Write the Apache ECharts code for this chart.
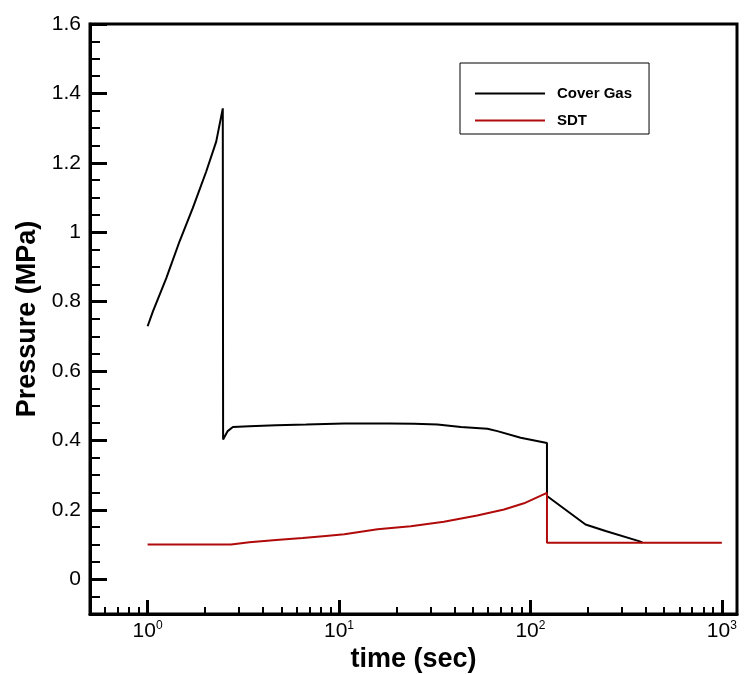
<!DOCTYPE html>
<html>
<head>
<meta charset="utf-8">
<script src="https://cdn.jsdelivr.net/npm/echarts@6/dist/echarts.min.js"></script>
<style>html,body{margin:0;padding:0;background:#fff;}#c{width:750px;height:674px;}</style>
</head>
<body>
<div id="c"></div>
<script>
var coverGasTime = [1, 1.066, 1.252, 1.469, 1.723, 2.024, 2.282, 2.47, 2.48, 2.62, 2.79, 3.4, 4.69, 6.73, 10.65, 18.3, 24.7, 32.7, 43.3, 59.6, 67.2, 88.9, 122, 122, 194, 247, 369, 384];
var coverGasPressure = [0.729, 0.772, 0.868, 0.974, 1.070, 1.175, 1.261, 1.357, 0.403, 0.427, 0.439, 0.441, 0.444, 0.446, 0.449, 0.449, 0.448, 0.446, 0.439, 0.434, 0.427, 0.408, 0.393, 0.240, 0.158, 0.139, 0.110, 0.106];
var sdtTime = [1, 2.73, 3.4, 4.69, 6.45, 8.53, 10.66, 15.9, 23.7, 35.3, 52.7, 72.8, 92.5, 122, 122, 1000];
var sdtPressure = [0.100, 0.100, 0.107, 0.113, 0.119, 0.125, 0.1295, 0.144, 0.153, 0.166, 0.184, 0.201, 0.219, 0.249, 0.105, 0.105];

var xMajorTicks = [1, 10, 100, 1000];
var xMinorTicks = [0.6, 0.7, 0.8, 0.9, 2, 3, 4, 5, 6, 7, 8, 9, 20, 30, 40, 50, 60, 70, 80, 90, 200, 300, 400, 500, 600, 700, 800, 900];
var yMajorTicks = [0, 0.2, 0.4, 0.6, 0.8, 1, 1.2, 1.4, 1.6];
var yMinorTicks = [-0.05, 0.05, 0.1, 0.15, 0.25, 0.3, 0.35, 0.45, 0.5, 0.55, 0.65, 0.7, 0.75, 0.85, 0.9, 0.95, 1.05, 1.1, 1.15, 1.25, 1.3, 1.35, 1.45, 1.5, 1.55];

function zip(a, b) { return a.map(function (v, i) { return [v, b[i]]; }); }

var chart = echarts.init(document.getElementById('c'), null, {renderer: 'canvas'});
var FONT = 'Liberation Sans, Arial, sans-serif';
chart.setOption({
  backgroundColor: '#fff',
  animation: false,
  grid: {left: 90, top: 24, right: 13, bottom: 60, show: true, borderColor: '#000', borderWidth: 3, containLabel: false, outerBoundsMode: 'none'},
  legend: {
    left: 460, top: 63, orient: 'vertical',
    borderColor: '#000', borderWidth: 1, borderRadius: 0,
    padding: [23, 17, 6, 15],
    itemWidth: 70, itemHeight: 2, itemGap: 12, icon: 'rect',
    textStyle: {fontFamily: FONT, fontSize: 15, fontWeight: 'bold', color: '#000', lineHeight: 14, padding: [0, 0, 0, 7]},
    data: ['Cover Gas', 'SDT']
  },
  xAxis: [{
    type: 'log', logBase: 10, min: 0.5, max: 1200, position: 'bottom',
    name: 'time (sec)', nameLocation: 'middle', nameGap: 26,
    nameTextStyle: {fontFamily: FONT, fontSize: 27, fontWeight: 'bold', color: '#000'},
    axisLine: {show: true, onZero: false, lineStyle: {color: '#000', width: 3}},
    axisTick: {show: true, inside: true, length: 14, lineStyle: {color: '#000', width: 3}, customValues: xMajorTicks},
    axisLabel: {
      customValues: xMajorTicks, margin: 6, color: '#000',
      formatter: function (v) { return '{a|10}{b|' + Math.round(Math.log10(v)) + '}'; },
      rich: {
        a: {fontFamily: FONT, fontSize: 21, color: '#000', lineHeight: 22},
        b: {fontFamily: FONT, fontSize: 12, color: '#000', lineHeight: 22, verticalAlign: 'top'}
      }
    },
    splitLine: {show: false}, minorTick: {show: false}
  }, {
    type: 'log', logBase: 10, min: 0.5, max: 1200, position: 'bottom',
    axisLine: {show: false, onZero: false},
    axisTick: {show: true, inside: true, length: 7, lineStyle: {color: '#000', width: 2}, customValues: xMinorTicks},
    axisLabel: {show: false}, splitLine: {show: false}
  }],
  yAxis: [{
    type: 'value', min: -0.1, max: 1.6, position: 'left',
    name: 'Pressure (MPa)', nameLocation: 'middle', nameGap: 47,
    nameTextStyle: {fontFamily: FONT, fontSize: 27, fontWeight: 'bold', color: '#000'},
    axisLine: {show: true, onZero: false, lineStyle: {color: '#000', width: 3}},
    axisTick: {show: true, inside: true, length: 17, lineStyle: {color: '#000', width: 3}, customValues: yMajorTicks},
    axisLabel: {customValues: yMajorTicks, margin: 9, fontFamily: FONT, fontSize: 21, color: '#000',
      formatter: function (v) { return String(Math.round(v * 10) / 10); }},
    splitLine: {show: false}
  }, {
    type: 'value', min: -0.1, max: 1.6, position: 'left',
    axisLine: {show: false, onZero: false},
    axisTick: {show: true, inside: true, length: 10, lineStyle: {color: '#000', width: 2}, customValues: yMinorTicks},
    axisLabel: {show: false}, splitLine: {show: false}
  }],
  series: [{
    name: 'Cover Gas', type: 'line', xAxisIndex: 0, yAxisIndex: 0,
    data: zip(coverGasTime, coverGasPressure),
    showSymbol: false, symbol: 'none', color: '#000',
    lineStyle: {color: '#000', width: 2}
  }, {
    name: 'SDT', type: 'line', xAxisIndex: 0, yAxisIndex: 0,
    data: zip(sdtTime, sdtPressure),
    showSymbol: false, symbol: 'none', color: '#b00a0a',
    lineStyle: {color: '#b00a0a', width: 2}
  }]
});
</script>
</body>
</html>
